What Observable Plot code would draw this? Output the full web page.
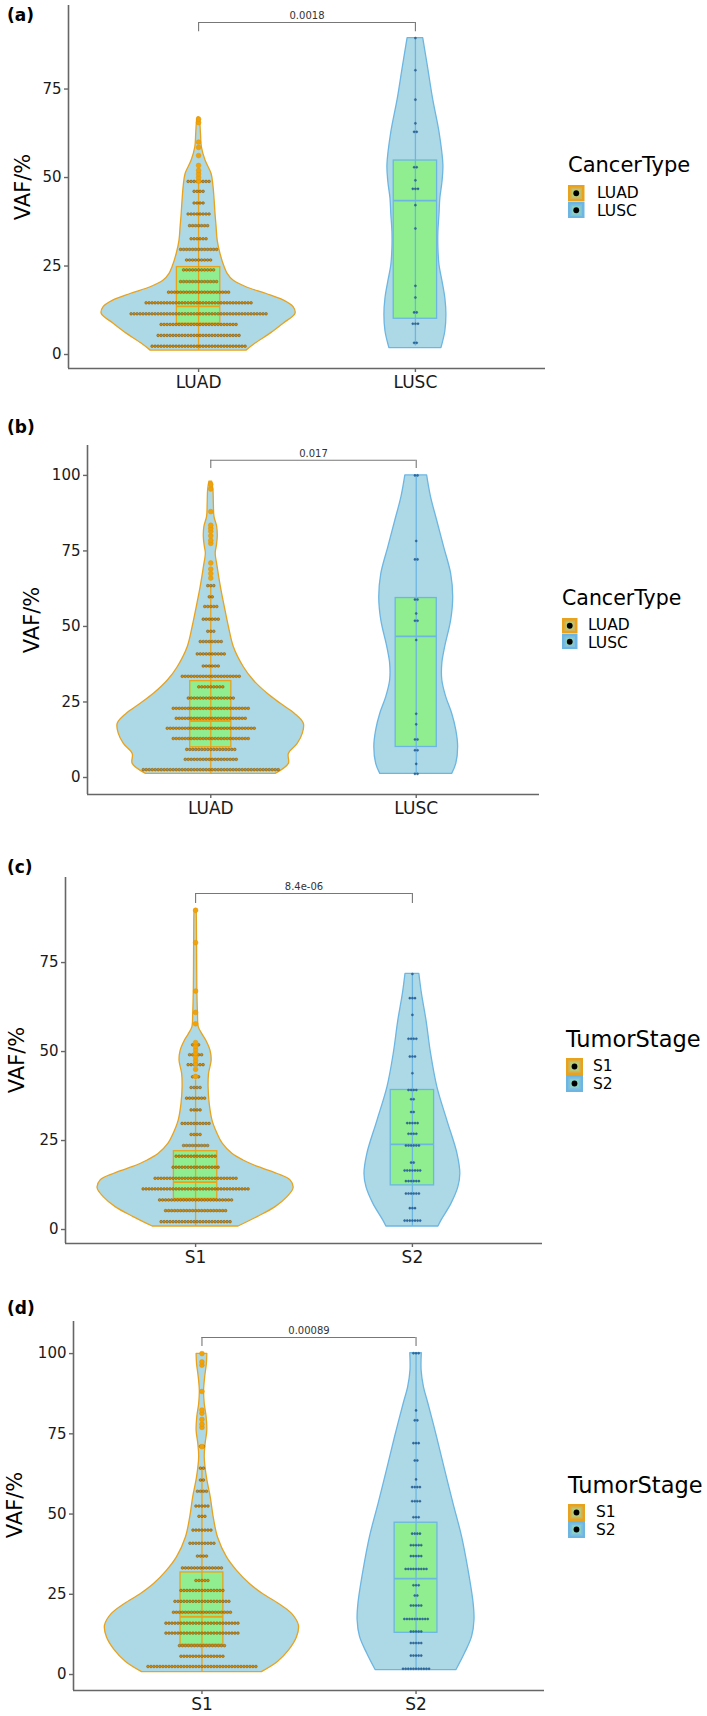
<!DOCTYPE html>
<html><head><meta charset="utf-8">
<script src="https://cdn.jsdelivr.net/npm/d3@7"></script>
<script src="https://cdn.jsdelivr.net/npm/@observablehq/plot@0.6"></script>
<style>
body{margin:0;background:#fff;font-family:"DejaVu Sans",sans-serif}
#root{position:relative;width:707px;height:1716px;overflow:hidden;background:#fff}
.abs{position:absolute;white-space:nowrap;color:#000}
.plot{position:absolute;left:0}
.ylab{transform:translate(-50%,-50%) rotate(-90deg);font-size:21px;line-height:24px}
.plab{font-weight:bold;font-size:17px;line-height:20px}
</style></head><body><div id="root"></div>
<script>
// ---------------- DATA ----------------
const panelLabels = ["(a)", "(b)", "(c)", "(d)"];
const groupsCancer = ["LUAD", "LUSC"];
const groupsStage = ["S1", "S2"];
const legendTitles = ["CancerType", "CancerType", "TumorStage", "TumorStage"];
const yTitle = "VAF/%";
const pValues = ["0.0018", "0.017", "8.4e-06", "0.00089"];
const bracketY = [93.8, 105, 94.4, 105];
const bracketTipY = [91.2, 102.3, 91.6, 102.2];
const yTicks75 = [0, 25, 50, 75];
const yTicks100 = [0, 25, 50, 75, 100];

// violin profiles: [VAF value, half-width in x-units (relative density)]
const violinA1 = [[1.1,0.221],[3.1,0.263],[5.9,0.332],[8.7,0.392],[11.5,0.447],[13.4,0.438],[15.3,0.392],[17.1,0.314],[19.0,0.221],[20.9,0.161],[22.8,0.134],[24.7,0.120],[28.4,0.101],[32.2,0.088],[36.0,0.083],[39.7,0.078],[43.5,0.074],[47.3,0.069],[51.0,0.060],[54.8,0.032],[58.6,0.015],[62.3,0.011],[66.1,0.007],[67.0,0.004]];
const violinA2 = [[1.8,0.120],[6.5,0.138],[11.2,0.143],[15.9,0.138],[20.6,0.125],[25.3,0.111],[30.0,0.106],[34.7,0.106],[39.4,0.111],[44.1,0.115],[48.8,0.125],[53.5,0.129],[62.8,0.111],[72.0,0.082],[81.2,0.058],[89.4,0.036]];
const violinB1 = [[1.2,0.316],[4.5,0.380],[7.8,0.380],[11.1,0.423],[14.5,0.448],[17.8,0.453],[21.1,0.409],[24.4,0.341],[27.7,0.277],[32.1,0.209],[36.5,0.161],[43.2,0.112],[49.9,0.088],[56.5,0.068],[63.1,0.049],[69.8,0.033],[74.2,0.024],[76.4,0.029],[79.7,0.034],[83.0,0.031],[86.3,0.018],[90.7,0.015],[95.1,0.013],[97.9,0.007]];
const violinB2 = [[1.2,0.175],[4.5,0.195],[10.1,0.204],[15.6,0.195],[21.1,0.175],[26.6,0.146],[32.1,0.127],[37.7,0.127],[43.2,0.141],[52.0,0.170],[59.7,0.180],[67.4,0.170],[76.2,0.136],[85.0,0.102],[92.8,0.072],[100,0.053]];
const violinC1 = [[0.84,0.198],[3.5,0.286],[6.3,0.369],[9.1,0.424],[11.6,0.452],[13.8,0.438],[15.6,0.378],[17.5,0.291],[19.4,0.221],[21.2,0.171],[24.1,0.125],[26.9,0.101],[30.6,0.078],[35.3,0.065],[40.0,0.060],[43.7,0.062],[47.4,0.074],[50.2,0.069],[53.1,0.049],[54.9,0.031],[56.8,0.015],[60.6,0.011],[68.0,0.008],[77.4,0.007],[86.8,0.006],[89.8,0.005]];
const violinC2 = [[0.84,0.120],[2.5,0.134],[7.2,0.180],[11.9,0.212],[15.6,0.221],[21.2,0.208],[30.6,0.161],[40.0,0.115],[49.4,0.086],[58.7,0.065],[66.2,0.044],[71.8,0.032]];
const violinD1 = [[0.73,0.280],[3.9,0.355],[7.5,0.407],[11.6,0.444],[15.2,0.453],[18.9,0.421],[22.0,0.360],[25.1,0.285],[28.2,0.224],[32.3,0.164],[36.5,0.117],[42.7,0.075],[48.9,0.055],[55.2,0.041],[61.4,0.023],[67.7,0.013],[71.8,0.017],[76.0,0.025],[80.1,0.022],[84.3,0.013],[88.4,0.010],[92.6,0.015],[96.8,0.023],[99.9,0.025]];
const violinD2 = [[1.4,0.189],[6.6,0.229],[11.8,0.262],[17.0,0.273],[22.1,0.269],[32.5,0.245],[42.9,0.215],[53.2,0.175],[63.6,0.136],[74.0,0.098],[84.3,0.058],[89.5,0.037],[94.7,0.026],[100.1,0.027]];

// box statistics: [q1, median, q3, lower whisker, upper whisker]
const boxA1 = [8.7, 13.6, 24.7, 1.2, 48.5];
const boxA2 = [10.1, 43.5, 54.8, 2.4, 89.4];
const boxB1 = [10.0, 18.7, 31.9, 1.2, 63.5];
const boxB2 = [10.1, 46.7, 59.4, 1.2, 100];
const boxC1 = [8.6, 13.3, 22.0, 0.84, 42.0];
const boxC2 = [12.4, 23.9, 39.2, 0.84, 71.8];
const boxD1 = [9.3, 18.0, 31.8, 0.73, 64.3];
const boxD2 = [13.0, 29.9, 47.3, 1.4, 100.1];

// dot-plot rows: [VAF bin value, number of dots]
const dotsA1 = [[2.35,32],[5.4,28],[8.5,26],[11.5,46],[14.6,36],[17.6,21],[20.6,13],[23.9,11],[26.7,9],[29.7,13],[32.7,6],[36.4,7],[39.7,8],[42.8,4],[46.1,4],[48.9,8]];
const dotsA2 = [[3.3,2],[8.7,3],[11.9,2],[16.1,1],[19.4,1],[35.6,1],[42.2,1],[46.8,3],[49.2,1],[52.9,2],[62.9,2],[65.3,1],[72.0,1],[80.3,1],[89.4,1]];
const dotsB1 = [[2.6,46],[6.0,18],[9.3,17],[12.9,26],[16.3,30],[19.6,24],[22.9,26],[26.3,16],[30.0,9],[33.5,20],[36.9,6],[40.9,10],[45.0,8],[48.4,3],[52.4,6],[56.6,5],[59.8,2],[63.5,3]];
const dotsB2 = [[1.2,2],[4.5,1],[9.0,2],[12.6,2],[17.6,1],[21.1,1],[45.5,1],[51.9,2],[54.3,1],[58.9,2],[72.2,2],[78.3,1],[100,2]];
const dotsC1 = [[2.2,24],[5.3,21],[8.3,25],[11.4,36],[14.4,28],[17.5,16],[20.6,14],[23.6,9],[26.7,4],[29.8,10],[33.6,4],[36.9,7],[39.9,4],[42.9,3],[46.3,6],[49.1,5],[51.9,3]];
const dotsC2 = [[2.5,7],[6.0,3],[10.1,6],[13.6,6],[16.6,7],[18.8,2],[23.6,6],[26.9,4],[29.9,5],[33.0,2],[36.6,2],[39.2,4],[43.9,1],[48.6,3],[53.6,4],[60.3,1],[65.0,3],[71.8,1]];
const dotsD1 = [[2.5,37],[5.7,15],[9.0,16],[12.9,25],[16.0,25],[19.4,20],[22.8,19],[26.2,15],[29.3,5],[33.2,14],[36.9,4],[40.9,9],[45.0,7],[49.3,3],[52.5,5],[57.1,4],[60.6,2],[64.3,2],[71.1,2]];
const dotsD2 = [[1.8,11],[5.9,5],[9.8,5],[13.4,5],[17.3,10],[21.5,5],[24.6,2],[27.8,3],[32.9,9],[36.9,5],[40.3,5],[43.9,4],[49.0,3],[54.0,4],[58.4,4],[60.8,1],[66.7,2],[72.1,3],[79.2,2],[82.3,1],[100.1,3]];

// boxplot outliers (first group only)
const outA1 = [49.0, 50.0, 51.0, 52.0, 53.4, 56.2, 58.5, 60.0, 65.5, 66.5];
const outB1 = [66.0, 67.5, 69.0, 71.0, 77.5, 78.5, 80.0, 81.5, 82.5, 83.5, 88.0, 95.5, 97.0];
const outC1 = [43.0, 45.0, 46.5, 47.5, 48.5, 49.5, 50.5, 51.5, 52.5, 57.8, 61.0, 67.0, 80.6, 89.7];
const outD1 = [71.0, 77.0, 78.0, 79.5, 81.4, 82.4, 88.2, 96.4, 97.4, 100.0];

// ---------------- STYLE / LAYOUT ----------------
const COL = ["#E9A21C", "#6DB6E2"];
const DOTFILL = ["#D38D0C", "#2F6EA8"];
const DOTSTROKE = ["#5a3a00", "#1d4a78"];
const VFILL = "#ADD8E6";
const BFILL = "#90EE90";
const AXIS = "#666";

const panels = [
  {top:0, height:400, bottomAxis:368, mt:5, ml:68, mr:162, yDom:[-3.95,98.6], ticks:yTicks75, groups:groupsCancer,
   violins:[violinA1,violinA2], boxes:[boxA1,boxA2], dots:[dotsA1,dotsA2], out:outA1,
   ylab:[23,187], plab:15, leg:{x:568, ty:166, ky:185, k:16.5, lx:597, fs:21, ls:18}},
  {top:430, height:396, bottomAxis:794, mt:15, ml:87, mr:168, yDom:[-5.63,109.9], ticks:yTicks100, groups:groupsCancer,
   violins:[violinB1,violinB2], boxes:[boxB1,boxB2], dots:[dotsB1,dotsB2], out:outB1,
   ylab:[32,620], plab:427, leg:{x:562, ty:598, ky:618, k:15.5, lx:588, fs:20.5, ls:18}},
  {top:860, height:415, bottomAxis:1243, mt:17, ml:65, mr:165, yDom:[-3.93,98.9], ticks:yTicks75, groups:groupsStage,
   violins:[violinC1,violinC2], boxes:[boxC1,boxC2], dots:[dotsC1,dotsC2], out:outC1,
   ylab:[17,1060], plab:867, leg:{x:566, ty:1039, ky:1058, k:17, lx:593, fs:22.5, ls:18}},
  {top:1300, height:416, bottomAxis:1690, mt:21, ml:73, mr:163, yDom:[-4.98,110], ticks:yTicks100, groups:groupsStage,
   violins:[violinD1,violinD2], boxes:[boxD1,boxD2], dots:[dotsD1,dotsD2], out:outD1,
   ylab:[15,1505], plab:1308, leg:{x:568, ty:1485, ky:1504, k:17, lx:596, fs:22.5, ls:18}}
];

const root = document.getElementById("root");

panels.forEach((P, pi) => {
  const W = 707;
  const marginBottom = P.height - (P.bottomAxis - P.top);
  const ppu = (W - P.ml - P.mr) / 2.2;
  const marks = [];
  // violins
  P.violins.forEach((vi, gi) => {
    const c = gi + 1;
    marks.push(Plot.areaX(vi.map(([v, w]) => ({v, w})), {
      y: "v", x1: d => c - d.w, x2: d => c + d.w,
      fill: VFILL, stroke: COL[gi], strokeWidth: 1.3, curve: "catmull-rom"
    }));
  });
  // boxes
  P.boxes.forEach((b, gi) => {
    const c = gi + 1, hw = 0.1;
    const rec = {q1:b[0], med:b[1], q3:b[2], lo:b[3], hi:b[4]};
    marks.push(Plot.rect([rec], {x1: c - hw, x2: c + hw, y1: "q1", y2: "q3", fill: BFILL, stroke: COL[gi], strokeWidth: 1.3}));
    marks.push(Plot.ruleY([rec], {y: "med", x1: c - hw, x2: c + hw, stroke: COL[gi], strokeWidth: 1.8}));
    marks.push(Plot.ruleX([rec], {x: c, y1: "lo", y2: "hi", stroke: COL[gi], strokeWidth: 1.3}));
  });
  // dot rows
  P.dots.forEach((rows, gi) => {
    const c = gi + 1;
    const sp = (gi === 0 ? 3.0 : 2.6) / ppu;
    const pts = [];
    rows.forEach(([v, n]) => { for (let i = 0; i < n; i++) pts.push({v, x: c + (i - (n - 1) / 2) * sp}); });
    marks.push(Plot.dot(pts, {x: "x", y: "v", r: gi === 0 ? 1.35 : 1.05, fill: DOTFILL[gi], stroke: DOTSTROKE[gi], strokeWidth: 0.4}));
  });
  // outliers
  marks.push(Plot.dot(P.out, {x: 1, y: d => d, r: 2.4, fill: "#F0A20A", stroke: "#E39400", strokeWidth: 0.5}));
  // significance bracket
  marks.push(Plot.ruleY([bracketY[pi]], {x1: 1, x2: 2, stroke: "#777", strokeWidth: 1.1}));
  marks.push(Plot.ruleX([1, 2], {x: d => d, y1: bracketTipY[pi], y2: bracketY[pi], stroke: "#777", strokeWidth: 1.1}));
  marks.push(Plot.text([pValues[pi]], {x: 1.5, y: bracketY[pi], text: d => d, dy: -7, fontSize: 10, fill: "#333"}));
  // axes
  marks.push(Plot.ruleX([0.4], {stroke: AXIS, strokeWidth: 1.6}));
  marks.push(Plot.ruleY([P.yDom[0]], {stroke: AXIS, strokeWidth: 1.6}));
  marks.push(Plot.axisY({ticks: P.ticks, tickSize: 4, tickPadding: 3, fontSize: 15, label: null, stroke: AXIS, fill: "#1a1a1a", strokeWidth: 1.4}));
  marks.push(Plot.axisX({ticks: [1, 2], tickFormat: i => P.groups[i - 1], tickSize: 4, tickPadding: 3, fontSize: 17, label: null, stroke: AXIS, fill: "#1a1a1a", strokeWidth: 1.4}));

  const svg = Plot.plot({
    width: W, height: P.height,
    marginTop: P.mt, marginBottom, marginLeft: P.ml, marginRight: P.mr,
    x: {domain: [0.4, 2.6], label: null},
    y: {domain: P.yDom, label: null},
    style: {fontFamily: "DejaVu Sans, sans-serif", background: "transparent", overflow: "visible"},
    marks
  });
  svg.classList.add("plot");
  svg.style.top = P.top + "px";
  root.appendChild(svg);

  // panel label
  const pl = document.createElement("div");
  pl.className = "abs plab";
  pl.style.left = "7px"; pl.style.top = (P.plab - 10) + "px";
  pl.textContent = panelLabels[pi];
  root.appendChild(pl);

  // y title
  const yl = document.createElement("div");
  yl.className = "abs ylab";
  yl.style.left = P.ylab[0] + "px"; yl.style.top = P.ylab[1] + "px";
  yl.textContent = yTitle;
  root.appendChild(yl);

  // legend
  const L = P.leg;
  const t = document.createElement("div");
  t.className = "abs";
  t.style.left = L.x + "px"; t.style.top = (L.ty - L.fs * 0.55) + "px";
  t.style.fontSize = L.fs + "px"; t.style.lineHeight = (L.fs * 1.1) + "px";
  t.textContent = legendTitles[pi];
  root.appendChild(t);
  const mid = L.ky + L.k;
  P.groups.forEach((g, gi) => {
    const ky = L.ky + gi * L.k;
    const k = document.createElement("div");
    k.className = "abs";
    k.style.left = L.x + "px"; k.style.top = ky + "px";
    const s = L.k;
    k.innerHTML = `<svg width="${s}" height="${s}" style="display:block">
      <rect x="0" y="0" width="${s}" height="${s}" fill="${COL[gi]}"/>
      <rect x="2.5" y="2.5" width="${s-5}" height="${s-5}" fill="${VFILL}" opacity="0.35"/>
      <rect x="3.5" y="3.5" width="${s-7}" height="${s-7}" fill="${BFILL}" opacity="0.35" stroke="${COL[gi]}" stroke-width="0.6"/>
      <circle cx="${s/2}" cy="${s/2}" r="2.9" fill="#000"/></svg>`;
    root.appendChild(k);
    const lt = document.createElement("div");
    lt.className = "abs";
    const cy = mid + (gi - 0.5) * L.ls;
    lt.style.left = L.lx + "px"; lt.style.top = (cy - L.ls / 2) + "px";
    lt.style.fontSize = "15.5px"; lt.style.lineHeight = L.ls + "px"; lt.style.height = L.ls + "px";
    lt.textContent = g;
    root.appendChild(lt);
  });
});
</script></body></html>
